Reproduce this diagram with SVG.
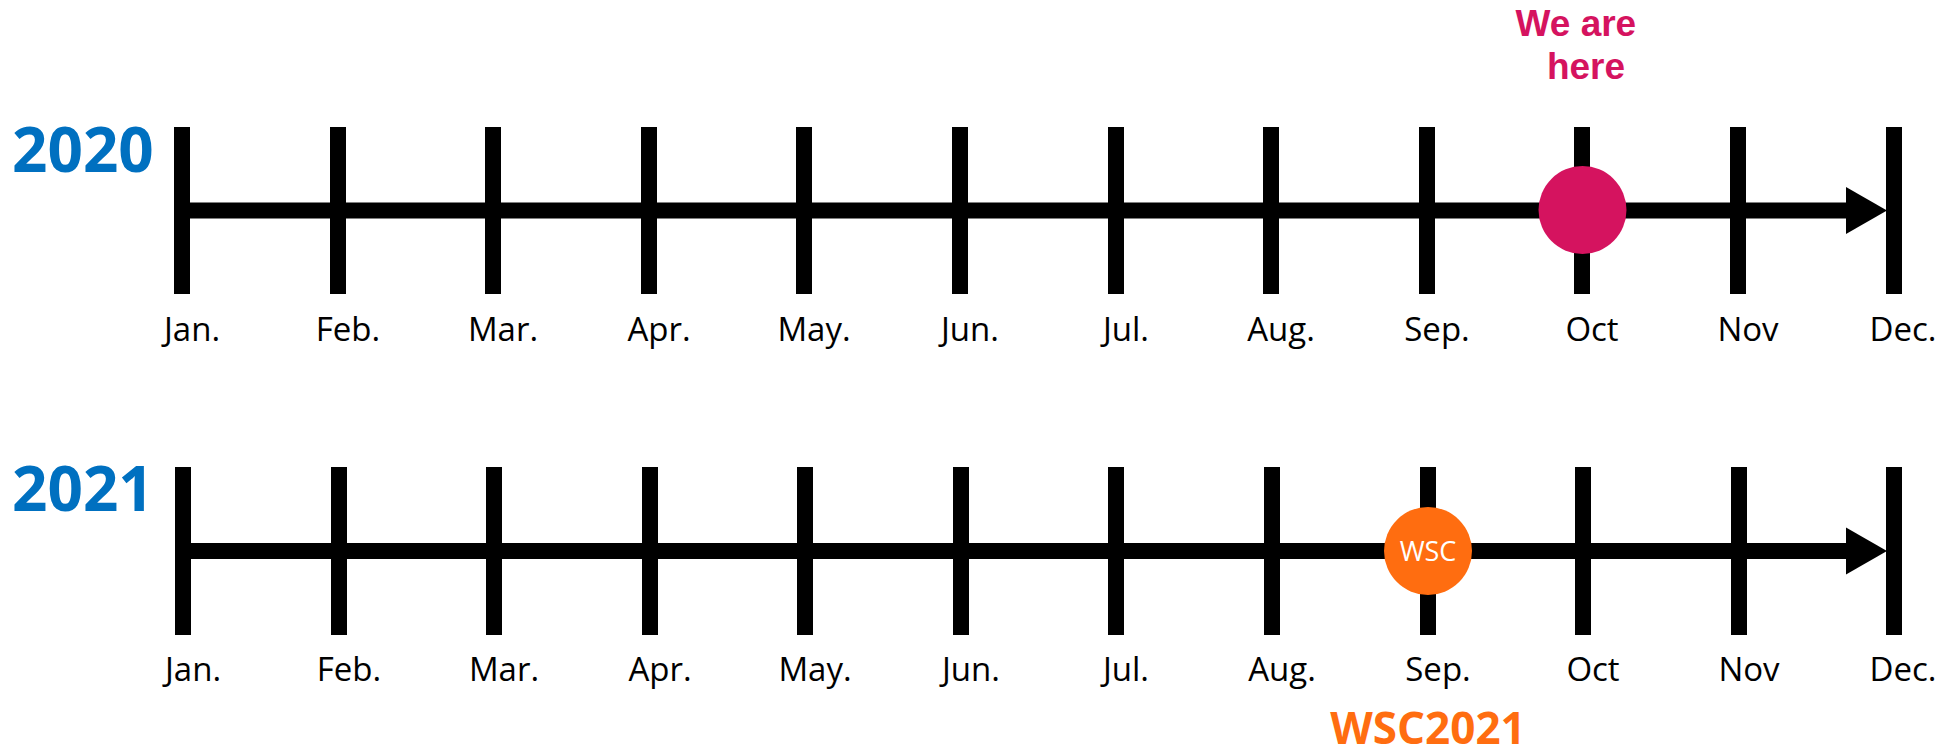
<svg xmlns="http://www.w3.org/2000/svg" width="1939" height="754" viewBox="0 0 1939 754">
<style>
.tick{stroke:#000;stroke-width:16;fill:none}
.axis{stroke:#000;stroke-width:16;fill:none}
.head{fill:#000}
.month{font-family:"Open Sans","Noto Sans",sans-serif;font-size:33px;fill:#000;text-anchor:middle}
.year{font-family:"Open Sans","Noto Sans",sans-serif;font-size:62px;font-weight:bold;fill:#0070C0}
</style>
<rect width="1939" height="754" fill="#fff"/>
<g id="connectors">
  <g id="axis-2020">
    <line class="axis" x1="182" y1="210.5" x2="1850" y2="210.5"/>
    <polygon class="head" points="1846,187 1887,210.5 1846,234"/>
  </g>
  <g id="axis-2021">
    <line class="axis" x1="183" y1="551" x2="1850" y2="551"/>
    <polygon class="head" points="1846,527.5 1887,551 1846,574.5"/>
  </g>
</g>
<g id="year-2020">
  <text class="year" x="12" y="172">2020</text>
  <g id="ticks-2020">
    <line class="tick" x1="182" y1="127" x2="182" y2="294"/>
    <line class="tick" x1="338" y1="127" x2="338" y2="294"/>
    <line class="tick" x1="493" y1="127" x2="493" y2="294"/>
    <line class="tick" x1="649" y1="127" x2="649" y2="294"/>
    <line class="tick" x1="804" y1="127" x2="804" y2="294"/>
    <line class="tick" x1="960" y1="127" x2="960" y2="294"/>
    <line class="tick" x1="1116" y1="127" x2="1116" y2="294"/>
    <line class="tick" x1="1271" y1="127" x2="1271" y2="294"/>
    <line class="tick" x1="1427" y1="127" x2="1427" y2="294"/>
    <line class="tick" x1="1582" y1="127" x2="1582" y2="294"/>
    <line class="tick" x1="1738" y1="127" x2="1738" y2="294"/>
    <line class="tick" x1="1894" y1="127" x2="1894" y2="294"/>
  </g>
  <g id="months-2020">
    <text class="month" x="192" y="341">Jan.</text>
    <text class="month" x="348" y="341">Feb.</text>
    <text class="month" x="503" y="341">Mar.</text>
    <text class="month" x="659" y="341">Apr.</text>
    <text class="month" x="814" y="341">May.</text>
    <text class="month" x="970" y="341">Jun.</text>
    <text class="month" x="1126" y="341">Jul.</text>
    <text class="month" x="1281" y="341">Aug.</text>
    <text class="month" x="1437" y="341">Sep.</text>
    <text class="month" x="1592" y="341">Oct</text>
    <text class="month" x="1748" y="341">Nov</text>
    <text class="month" x="1903" y="341">Dec.</text>
  </g>
</g>
<g id="we-are-here">
  <circle cx="1582.5" cy="210" r="44" fill="#D5135F"/>
  <text font-family="'Liberation Sans',Arial,sans-serif" font-size="37" font-weight="bold" fill="#D5135F" text-anchor="middle">
    <tspan x="1581" y="36">We are</tspan>
    <tspan x="1586" y="79">here</tspan>
  </text>
</g>
<g id="year-2021">
  <text class="year" x="12" y="511">2021</text>
  <g id="ticks-2021">
    <line class="tick" x1="183" y1="467" x2="183" y2="635"/>
    <line class="tick" x1="339" y1="467" x2="339" y2="635"/>
    <line class="tick" x1="494" y1="467" x2="494" y2="635"/>
    <line class="tick" x1="650" y1="467" x2="650" y2="635"/>
    <line class="tick" x1="805" y1="467" x2="805" y2="635"/>
    <line class="tick" x1="961" y1="467" x2="961" y2="635"/>
    <line class="tick" x1="1116" y1="467" x2="1116" y2="635"/>
    <line class="tick" x1="1272" y1="467" x2="1272" y2="635"/>
    <line class="tick" x1="1428" y1="467" x2="1428" y2="635"/>
    <line class="tick" x1="1583" y1="467" x2="1583" y2="635"/>
    <line class="tick" x1="1739" y1="467" x2="1739" y2="635"/>
    <line class="tick" x1="1894" y1="467" x2="1894" y2="635"/>
  </g>
  <g id="months-2021">
    <text class="month" x="193" y="681">Jan.</text>
    <text class="month" x="349" y="681">Feb.</text>
    <text class="month" x="504" y="681">Mar.</text>
    <text class="month" x="660" y="681">Apr.</text>
    <text class="month" x="815" y="681">May.</text>
    <text class="month" x="971" y="681">Jun.</text>
    <text class="month" x="1126" y="681">Jul.</text>
    <text class="month" x="1282" y="681">Aug.</text>
    <text class="month" x="1438" y="681">Sep.</text>
    <text class="month" x="1593" y="681">Oct</text>
    <text class="month" x="1749" y="681">Nov</text>
    <text class="month" x="1903" y="681">Dec.</text>
  </g>
</g>
<g id="wsc">
  <circle cx="1428" cy="551" r="44" fill="#FF6D10"/>
  <text x="1428" y="561" font-family="'Open Sans','Noto Sans',sans-serif" font-size="27" fill="#fff" text-anchor="middle">WSC</text>
  <text x="1428" y="744" font-family="'Open Sans','Noto Sans',sans-serif" font-size="44" font-weight="bold" fill="#FF6D10" text-anchor="middle">WSC2021</text>
</g>
</svg>
